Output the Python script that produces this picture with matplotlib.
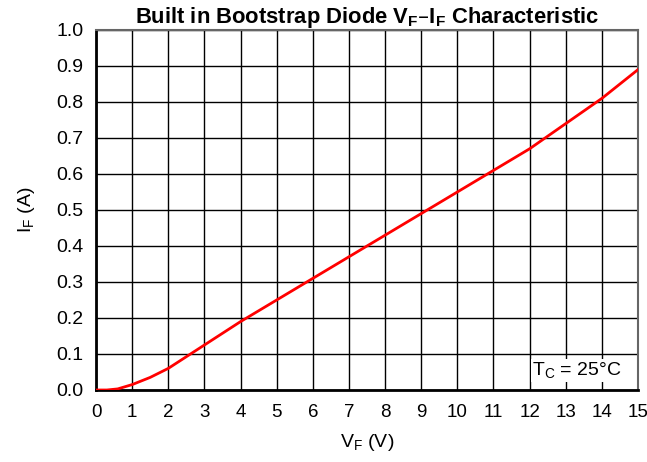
import matplotlib
matplotlib.use('Agg')
from matplotlib import pyplot as plt

plt.rcParams['font.family'] = ['Liberation Sans', 'DejaVu Sans']

vf = [0, 0.3, 0.6, 1.0, 1.5, 2.0, 3.0, 4.0, 5.0, 6.0, 7.0, 8.0, 9.0, 10.0, 11.0, 12.0, 13.0, 14.0, 15.0]
i_f = [0.0, 0.0, 0.003, 0.015, 0.035, 0.06, 0.125, 0.19, 0.25, 0.31, 0.37, 0.43, 0.49, 0.55, 0.61, 0.67, 0.74, 0.81, 0.89]
xticks = list(range(0, 16))
yticks = [round(0.1 * k, 1) for k in range(11)]

fig = plt.figure(figsize=(6.47, 4.62), dpi=100)
ax = fig.add_axes([96/647, 1-390/462, 542/647, 360/462])
ax.plot(vf, i_f, color='#ff0000', lw=2, zorder=3)
ax.set_xlim(0, 15)
ax.set_ylim(0, 1.0)
ax.set_xticks(xticks)
ax.set_yticks(yticks)
ax.set_yticklabels(['%.1f' % v for v in yticks])
ax.grid(True, color='black', lw=1)
ax.tick_params(length=0, labelsize=14)
ax.tick_params(axis='x', pad=10, labelsize=13.5)
ax.tick_params(axis='y', pad=9)
for s in ['top', 'right']:
    ax.spines[s].set_color('#666666')
    ax.spines[s].set_linewidth(1.5)
for s in ['left', 'bottom']:
    ax.spines[s].set_linewidth(2)
ax.set_xlabel('V$_\\mathregular{F}$ (V)', fontsize=14, labelpad=8)
ax.set_ylabel('I$_\\mathregular{F}$ (A)', fontsize=14, labelpad=14)
ax.set_title('Built in Bootstrap Diode V$_\\mathregular{F}$\u2013I$_\\mathregular{F}$ Characteristic',
             fontsize=15.8, fontweight='bold', pad=4)
ax.text(14.55, 0.025, 'T$_\\mathregular{C}$ = 25\u00b0C', fontsize=14, ha='right', va='bottom',
        bbox=dict(facecolor='white', edgecolor='none', pad=1), zorder=4)
fig.savefig('out.png', dpi=100)
